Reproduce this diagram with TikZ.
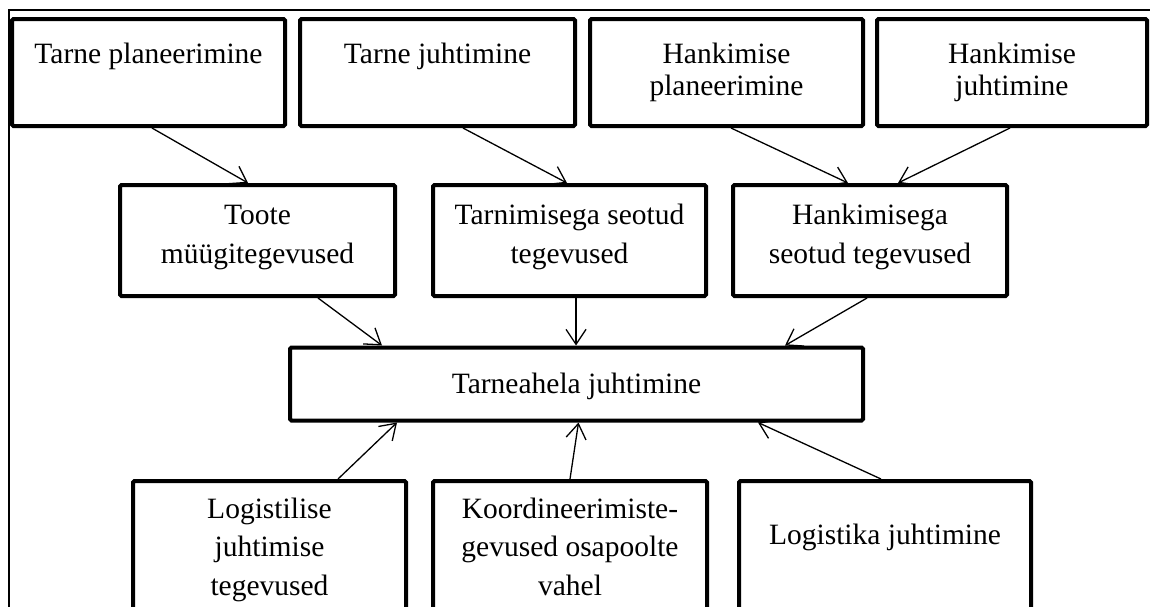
\documentclass[tikz,border=0pt]{standalone}
\usepackage{fontspec}
\setmainfont{Liberation Serif}
\usetikzlibrary{arrows.meta}
\begin{document}
\begin{tikzpicture}[x=1pt,y=-1pt,
  box/.style 2 args={draw, line width=4pt, rounded corners=1.5pt, inner sep=0pt,
    minimum width=#1pt, minimum height=#2pt},
  lbl/.style={inner sep=0pt, align=center, anchor=base},
  toprow/.style={lbl, font=\fontsize{29.5}{32}\selectfont},
  midrow/.style={lbl, font=\fontsize{29.5}{39}\selectfont},
  lowrow/.style={lbl, font=\fontsize{29.5}{38.5}\selectfont},
  arr/.style={line width=1.3pt, -{Straight Barb[length=15pt,width=20pt,line width=1.3pt]}},
  frame/.style={line width=1.2pt}]
\useasboundingbox (0,0) rectangle (1150,606);
\clip (0,0) rectangle (1150,606);

% outer frame
\draw[frame] (9,660) -- (9,10) -- (1170,10);

% top row (labels anchored at the baseline of their last line)
\node[box={273}{107}] (b1) at (148.5,72.5) {};
\node[box={275}{107}] (b2) at (437.5,72.5) {};
\node[box={273}{107}] (b3) at (726.5,72.5) {};
\node[box={270}{107}] (b4) at (1012,72.5) {};
\node[toprow] (tb1) at (148.5,63) {Tarne planeerimine};
\node[toprow] (tb2) at (437.5,63) {Tarne juhtimine};
\node[toprow] (tb3) at (726.5,95) {Hankimise\\planeerimine};
\node[toprow] (tb4) at (1012,95) {Hankimise\\juhtimine};

% middle row
\node[box={275}{111}] (m1) at (257.5,240.5) {};
\node[box={273}{111}] (m2) at (569.5,240.5) {};
\node[box={274}{111}] (m3) at (870,240.5) {};
\node[midrow] (tm1) at (257.5,263) {Toote\\müügitegevused};
\node[midrow] (tm2) at (569.5,263) {Tarnimisega seotud\\tegevused};
\node[midrow] (tm3) at (870,263) {Hankimisega\\seotud tegevused};

% central box
\node[box={573}{73}] (c) at (576.5,384) {};
\node[lbl, font=\fontsize{29.5}{32}\selectfont] (tc) at (576.5,393) {Tarneahela juhtimine};

% bottom row
\node[box={273}{159}] (l1) at (269.5,560.5) {};
\node[box={274}{159}] (l2) at (570,560.5) {};
\node[box={292}{159}] (l3) at (885,560.5) {};
\node[lowrow] (tl1) at (269.5,595) {Logistilise\\juhtimise\\tegevused};
\node[lowrow] (tl2) at (570,595) {Koordineerimiste-\\gevused osapoolte\\vahel};
\node[lowrow] (tl3) at (885,544) {Logistika juhtimine};

% connectors
\draw[arr] ([xshift=3.5pt]b1.south) -- ([xshift=-9.5pt]m1.north);
\draw[arr] ([xshift=25.5pt]b2.south) -- ([xshift=-2.5pt]m2.north);
\draw[arr] ([xshift=4.5pt]b3.south) -- ([xshift=-22pt]m3.north);
\draw[arr] ([xshift=-2pt]b4.south) -- ([xshift=28pt]m3.north);
\draw[arr] ([xshift=60.5pt]m1.south) -- ([xshift=-194.5pt]c.north);
\draw[arr] ([xshift=6.5pt]m2.south) -- ([xshift=-0.5pt]c.north);
\draw[arr] ([xshift=-3pt]m3.south) -- ([xshift=208.5pt]c.north);
\draw[arr] ([xshift=68.5pt]l1.north) -- ([xshift=-179.5pt]c.south);
\draw[arr] (l2.north) -- ([xshift=2pt]c.south);
\draw[arr] ([xshift=-4pt]l3.north) -- ([xshift=181.5pt]c.south);
\end{tikzpicture}
\end{document}
